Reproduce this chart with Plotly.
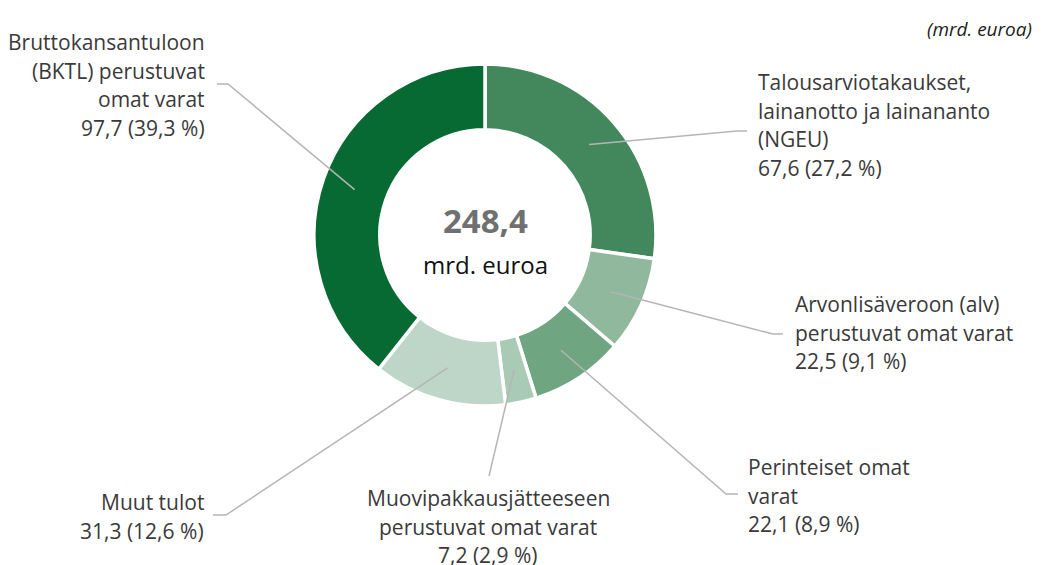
import plotly.graph_objects as go
import math

# ---- data ----
categories = [
    "Talousarviotakaukset,<br>lainanotto ja lainananto<br>(NGEU)",
    "Arvonlisäveroon (alv)<br>perustuvat omat varat",
    "Perinteiset omat<br>varat",
    "Muovipakkausjätteeseen<br>perustuvat omat varat",
    "Muut tulot",
    "Bruttokansantuloon<br>(BKTL) perustuvat<br>omat varat",
]
values = [67.6, 22.5, 22.1, 7.2, 31.3, 97.7]
total_label = "248,4"
unit_label = "mrd. euroa"
colors = ["#43885c", "#8fb89d", "#70a582", "#a9cbb5", "#bdd6c8", "#076a33"]

# ---- layout constants (viewport pixels) ----
W, H = 1051, 565
OFF = 8  # page body margin
CX, CY, R_OUT, HOLE = 485, 235, 171, 0.615
R_MID = R_OUT * (1 + HOLE) / 2
LINE_H = 28.7

# label placement: (anchor x, first line y, xanchor, bend point, tail end)
placements = [
    (756, 82, "left", (737, 131), (747, 131)),
    (793, 304, "left", (773, 334), (783, 334)),
    (746, 467, "left", (726, 494), (738, 494)),
    (488, 498, "center", None, (489, 476)),
    (206, 502, "right", (226, 515), (213, 515)),
    (207, 42, "right", (228, 84), (217, 84)),
]

def fx(x):
    return (x - OFF) / W

def fy(y):
    return 1 - (y - OFF) / H

def fmt(v):
    return f"{v:.1f}".replace(".", ",")

total = sum(values)
label_font = dict(family="Open Sans", size=21, color="#3a3a3a")

fig = go.Figure(go.Pie(
    values=values,
    labels=[c.replace("<br>", " ") for c in categories],
    sort=False,
    direction="clockwise",
    rotation=0,
    hole=HOLE,
    marker=dict(colors=colors, line=dict(color="white", width=3.5)),
    textinfo="none",
    hoverinfo="label+value+percent",
    showlegend=False,
    domain=dict(x=[fx(CX - R_OUT), fx(CX + R_OUT)], y=[fy(CY + R_OUT), fy(CY - R_OUT)]),
))

shapes = []
annotations = []
cum = 0
for cat, v, pl in zip(categories, values, placements):
    mid = (cum + v / 2) / total * 2 * math.pi
    cum += v
    sx = CX + R_MID * math.sin(mid)
    sy = CY - R_MID * math.cos(mid)
    ax, ay, xanc, bend, tail = pl
    pts = [(sx, sy)] + ([bend] if bend else []) + [tail]
    path = "M " + " L ".join(f"{fx(x)},{fy(y)}" for x, y in pts)
    shapes.append(dict(type="path", path=path, xref="paper", yref="paper",
                       line=dict(color="#b5b5b5", width=1.5)))
    lines = cat.split("<br>") + [f"{fmt(v)} ({fmt(v / total * 100)} %)"]
    for i, ln in enumerate(lines):
        annotations.append(dict(
            text=ln, x=fx(ax), y=fy(ay + i * LINE_H), xref="paper", yref="paper",
            xanchor=xanc, yanchor="middle", showarrow=False, font=label_font,
        ))

annotations.append(dict(text=f"<b>{total_label}</b>", x=fx(CX), y=fy(220), xref="paper", yref="paper",
                        showarrow=False, xanchor="center", yanchor="middle",
                        font=dict(family="Open Sans", size=33, color="#707070")))
annotations.append(dict(text=unit_label, x=fx(CX), y=fy(264), xref="paper", yref="paper",
                        showarrow=False, xanchor="center", yanchor="middle",
                        font=dict(family="Open Sans", size=24, color="#111111")))
annotations.append(dict(text=f"<i>({unit_label})</i>", x=fx(1034), y=fy(29), xref="paper", yref="paper",
                        showarrow=False, xanchor="right", yanchor="middle",
                        font=dict(family="Open Sans", size=19, color="#222222")))

fig.update_layout(
    width=W, height=H,
    margin=dict(l=0, r=0, t=0, b=0),
    paper_bgcolor="white",
    plot_bgcolor="white",
    shapes=shapes,
    annotations=annotations,
)

fig.write_html("out.html")
